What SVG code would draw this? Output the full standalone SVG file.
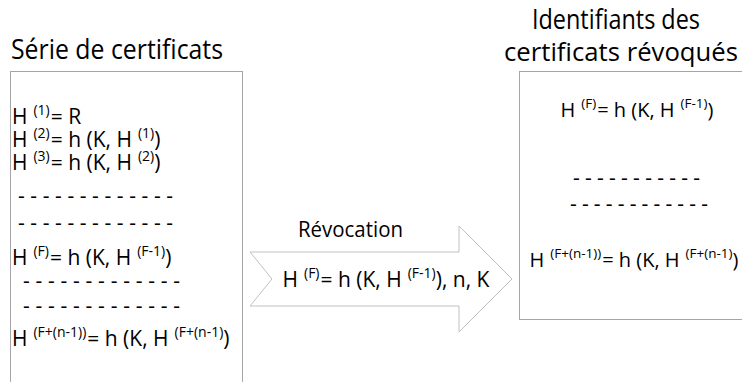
<svg xmlns="http://www.w3.org/2000/svg" width="742" height="382" viewBox="0 0 742 382">
<style>
text{font-family:"Open Sans","Liberation Sans",sans-serif;fill:#000}
.t{font-size:27px}
.t2{font-size:25px}
.b{font-size:21px}
.s{font-size:14px}
.r{font-size:20px}
.rs{font-size:13.5px}
.m{text-anchor:middle}
.box{fill:#fff;stroke:#a6a6a6;stroke-width:1}
.arr{fill:#fff;stroke:#c0c0c0;stroke-width:1}
</style>
<rect width="742" height="382" fill="#fff"/>
<g id="serie">
<text class="t" x="11" y="59" textLength="212" lengthAdjust="spacingAndGlyphs">Série de certificats</text>
<rect class="box" x="10.5" y="71.5" width="232" height="320"/>
<text class="b" x="12" y="124">H<tspan class="s" dx="6" dy="-9">(1)</tspan><tspan dx="1" dy="9">= R</tspan></text>
<text class="b" x="12" y="147">H<tspan class="s" dx="6" dy="-9">(2)</tspan><tspan dx="1" dy="9">= h (K, H</tspan><tspan class="s" dx="6" dy="-9">(1)</tspan><tspan dy="9">)</tspan></text>
<text class="b" x="12" y="170">H<tspan class="s" dx="6" dy="-9">(3)</tspan><tspan dx="1" dy="9">= h (K, H</tspan><tspan class="s" dx="6" dy="-9">(2)</tspan><tspan dy="9">)</tspan></text>
<text class="b" x="18" y="203" textLength="155" lengthAdjust="spacing">- - - - - - - - - - - - -</text>
<text class="b" x="18" y="230" textLength="155" lengthAdjust="spacing">- - - - - - - - - - - - -</text>
<text class="b" x="12" y="265">H<tspan class="s" dx="6" dy="-9">(F)</tspan><tspan dx="1" dy="9">= h (K, H</tspan><tspan class="s" dx="6" dy="-9">(F-1)</tspan><tspan dy="9">)</tspan></text>
<text class="b" x="23" y="288" textLength="157" lengthAdjust="spacing">- - - - - - - - - - - - -</text>
<text class="b" x="23" y="313" textLength="157" lengthAdjust="spacing">- - - - - - - - - - - - -</text>
<text class="b" x="12" y="346">H<tspan class="s" dx="6" dy="-9">(F+(n-1))</tspan><tspan dx="1" dy="9">= h (K, H</tspan><tspan class="s" dx="6" dy="-9">(F+(n-1)</tspan><tspan dy="9">)</tspan></text>
</g>
<g id="revocation">
<polygon class="arr" points="250,252 459,252 459,226 512,279 459,332 459,306 250,306 272,279"/>
<text class="b" x="298" y="237" textLength="105" lengthAdjust="spacingAndGlyphs">Révocation</text>
<text class="b m" x="386" y="287">H<tspan class="s" dx="6" dy="-9">(F)</tspan><tspan dx="1" dy="9">= h (K, H</tspan><tspan class="s" dx="6" dy="-9">(F-1)</tspan><tspan dy="9">), n, K</tspan></text>
</g>
<g id="revoques">
<text class="t m" x="616" y="29" textLength="168" lengthAdjust="spacingAndGlyphs">Identifiants des</text>
<text class="t2 m" x="621" y="61" textLength="234" lengthAdjust="spacingAndGlyphs">certificats révoqués</text>
<rect class="box" x="519.5" y="71.5" width="240" height="248"/>
<text class="r m" x="637" y="117">H<tspan class="rs" dx="6" dy="-9">(F)</tspan><tspan dx="1" dy="9">= h (K, H</tspan><tspan class="rs" dx="6" dy="-9">(F-1)</tspan><tspan dy="9">)</tspan></text>
<text class="b" x="573" y="185" textLength="127" lengthAdjust="spacing">- - - - - - - - - - -</text>
<text class="b" x="570" y="211" textLength="138" lengthAdjust="spacing">- - - - - - - - - - - -</text>
<text class="r m" x="634" y="267">H<tspan class="rs" dx="6" dy="-9">(F+(n-1))</tspan><tspan dx="1" dy="9">= h (K, H</tspan><tspan class="rs" dx="6" dy="-9">(F+(n-1)</tspan><tspan dy="9">)</tspan></text>
</g>
</svg>
